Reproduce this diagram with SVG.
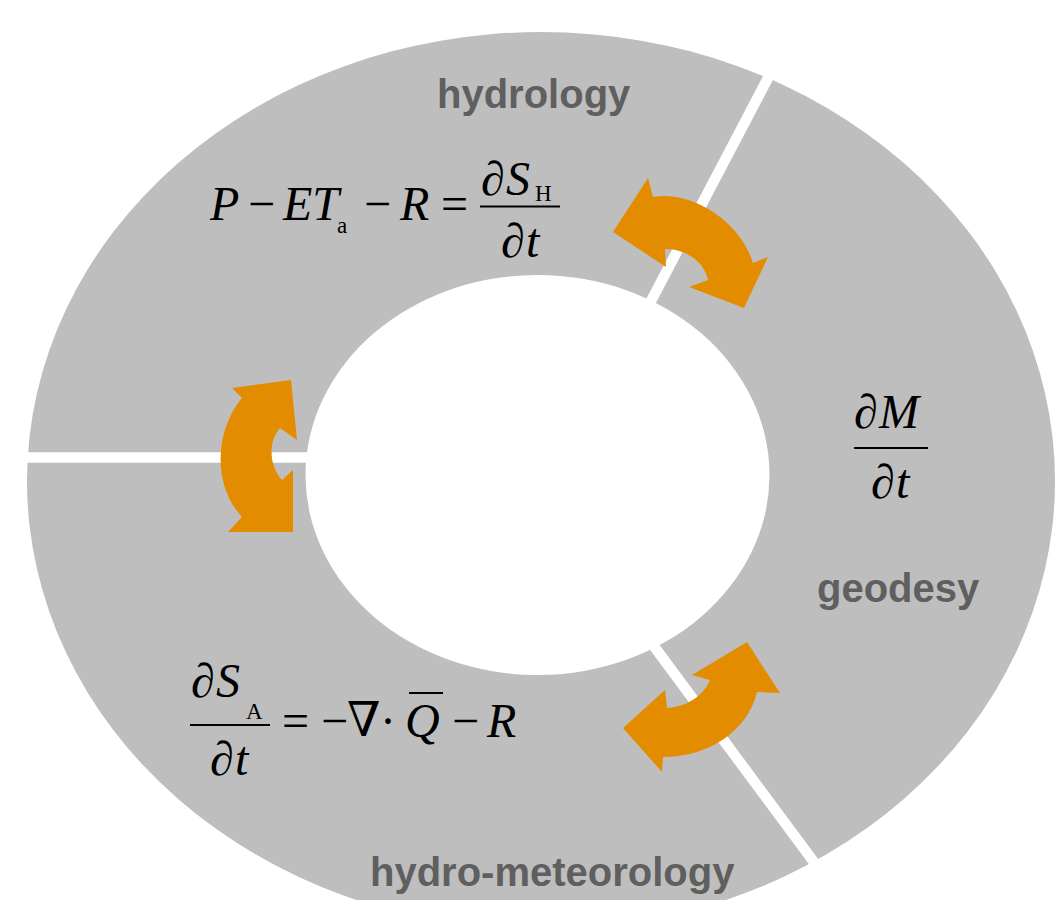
<svg xmlns="http://www.w3.org/2000/svg" width="1055" height="900" viewBox="0 0 1055 900">
<style>
.lbl{font-family:"Liberation Sans",Arial,sans-serif;font-weight:bold;font-size:40px;fill:#5f5f5f}
.m{font-family:"Liberation Serif","Times New Roman","DejaVu Serif",serif;font-size:48px;fill:#000}
.i{font-style:italic}
.sub{font-size:23px}
.fl{stroke:#000;stroke-width:2}
.div{stroke:#fff;stroke-width:10.5}
.arrow{fill:#e48c00}
</style>
<rect width="1055" height="900" fill="#fff"/>
<g id="ring">
<ellipse cx="541" cy="481" rx="514" ry="449" fill="#bebebe"/>
<ellipse cx="537.5" cy="475" rx="232" ry="200" fill="#fff"/>
<line class="div" x1="0" y1="457.5" x2="312" y2="457.5"/>
<line class="div" x1="789" y1="38" x2="640" y2="322"/>
<line class="div" x1="636" y1="622" x2="842" y2="900"/>
</g>
<g id="hydrology">
<text class="lbl" x="437" y="108">hydrology</text>
<text class="m"><tspan class="i" x="210" y="220">P</tspan><tspan x="248" y="220">−</tspan><tspan class="i" x="283" y="220">ET</tspan><tspan class="sub" x="337" y="233">a</tspan><tspan x="364" y="220">−</tspan><tspan class="i" x="400" y="220">R</tspan><tspan x="441" y="220">=</tspan><tspan x="481" y="195">∂</tspan><tspan class="i" x="506" y="195">S</tspan><tspan class="sub" x="535" y="201">H</tspan><tspan x="501" y="257">∂</tspan><tspan class="i" x="526" y="257">t</tspan></text>
<line class="fl" x1="480" y1="206.5" x2="560" y2="206.5"/>
</g>
<g id="geodesy">
<text class="lbl" x="817" y="602">geodesy</text>
<text class="m"><tspan x="854" y="428">∂</tspan><tspan class="i" x="879" y="428">M</tspan><tspan x="871" y="498">∂</tspan><tspan class="i" x="896" y="498">t</tspan></text>
<line class="fl" x1="854" y1="448" x2="928" y2="448"/>
</g>
<g id="hydro-meteorology">
<text class="lbl" x="370" y="886">hydro-meteorology</text>
<text class="m"><tspan x="191" y="697">∂</tspan><tspan class="i" x="216" y="697">S</tspan><tspan class="sub" x="246" y="719">A</tspan><tspan x="210" y="775">∂</tspan><tspan class="i" x="235" y="775">t</tspan><tspan x="282" y="737">=</tspan><tspan x="321" y="737">−</tspan><tspan x="347" y="736">∇</tspan><tspan x="380" y="737">·</tspan><tspan class="i" x="405" y="737">Q</tspan><tspan x="452" y="737">−</tspan><tspan class="i" x="487" y="737">R</tspan></text>
<line class="fl" x1="190" y1="725" x2="270" y2="725"/>
<line class="fl" x1="409" y1="693" x2="443" y2="693"/>
</g>
<g id="connectors">
<path id="arrow-hydrology-geodesy" class="arrow" d="M613,232 L648,178 L653,197 C690,190 740,220 753,263 L768,257 L744,308 L689,287 L708,280 C705,265 690,249 665,249 L666,267 Z"/>
<path id="arrow-hydrology-meteorology" class="arrow" d="M280,428 L297,440 L291,380 L232,388 L242,398 C215,430 212,485 242,517 L228,532 L293,532 L293,470 L282,480 C270,468 267,442 280,428 Z"/>
<path id="arrow-meteorology-geodesy" class="arrow" d="M623,728 L665,690 L667,708 C685,707 703,697 710,680 L692,675 L747,642 L780,693 L757,692 C748,730 710,757 663,757 L662,772 Z"/>
</g>
</svg>
